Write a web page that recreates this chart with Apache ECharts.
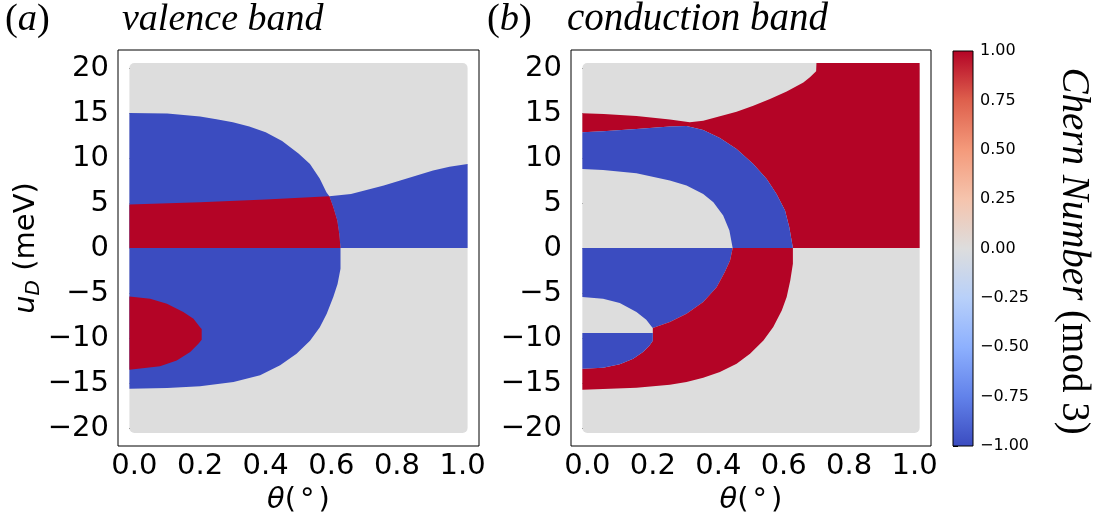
<!DOCTYPE html>
<html><head><meta charset="utf-8">
<script src="https://cdn.jsdelivr.net/npm/echarts@6/dist/echarts.min.js"></script>
<style>html,body{margin:0;padding:0;background:#fff}#c{width:1102px;height:523px}</style>
</head><body><div id="c"></div>
<script>
// ---------- axes / ticks ----------
const thetaTicks = [0, 0.2, 0.4, 0.6, 0.8, 1.0];
const uTicks = [-20, -15, -10, -5, 0, 5, 10, 15, 20];
const cbarTicks = [-1, -0.75, -0.5, -0.25, 0, 0.25, 0.5, 0.75, 1];
const thetaRange = [0, 1];      // θ grid extent (°)
const uRange = [-20, 20];       // u_D grid extent (meV)
const chernRange = [-1, 1];
const coolwarm = ['#3b4cc0','#6282ea','#8db0fe','#b8d0f9','#dddddd','#f5c4ad','#f49a7b','#de604d','#b40426'];

// ---------- (a) valence band : phase boundaries [θ, u_D] ----------
const valOuterTop = [[0,15.0],[0.1,14.95],[0.2,14.6],[0.25,14.3],[0.3,13.96],[0.35,13.5],[0.4,12.85],[0.45,11.9],[0.5,10.5],[0.535,9.34],[0.565,7.7],[0.585,6.2],[0.594,5.75]];
const valBandEdge = [[0.594,5.75],[0.606,4.53],[0.618,3.05],[0.624,1.57],[0.628,0]];
const valOuterBottom = [[0.628,0],[0.628,-2.3],[0.619,-4.0],[0.606,-5.45],[0.586,-7.3],[0.565,-8.8],[0.535,-10.3],[0.494,-11.75],[0.444,-13.04],[0.383,-14.15],[0.302,-14.9],[0.2,-15.37],[0.1,-15.56],[0,-15.63]];
const valTailTop = [[0.594,5.75],[0.66,6.0],[0.71,6.46],[0.76,6.94],[0.81,7.5],[0.86,8.05],[0.91,8.6],[0.96,9.04],[1,9.34]];
const valBandTop = [[0,4.83],[0.2,5.09],[0.4,5.38],[0.594,5.75]];
const valPocket = [[0,-5.38],[0.048,-5.64],[0.099,-6.2],[0.149,-7.12],[0.18,-7.86],[0.2,-8.8],[0.205,-9.0],[0.205,-10.2],[0.195,-10.64],[0.17,-11.56],[0.129,-12.49],[0.078,-13.15],[0,-13.52]];
const valChern = {main: -1, tail: -1, band: 1, pocket: 1, rest: 0};

// ---------- (b) conduction band : phase boundaries [θ, u_D] ----------
const conTopEdge = [[0,14.96],[0.05,14.9],[0.15,14.66],[0.252,14.29],[0.313,13.96],[0.354,14.15],[0.405,14.63],[0.456,15.15],[0.507,15.8],[0.558,16.56],[0.609,17.4],[0.66,18.4],[0.68,18.96],[0.699,19.63],[0.70,20]];
const conArcOuter = [[0,12.86],[0.048,12.97],[0.15,13.23],[0.252,13.49],[0.303,13.56],[0.354,13.1],[0.405,12.23],[0.456,11.0],[0.507,9.34],[0.548,7.68],[0.578,6.0],[0.604,4.16],[0.617,2.3],[0.628,0]];
const conArcInner = [[0,8.79],[0.048,8.68],[0.15,8.3],[0.252,7.5],[0.303,6.94],[0.354,6.0],[0.385,5.09],[0.415,3.6],[0.434,1.94],[0.444,0]];
const conEllipseTop = [[0,-5.45],[0.048,-5.64],[0.099,-6.1],[0.15,-7.12],[0.18,-7.97],[0.196,-8.71],[0.2,-8.9]];
const conLowerEdge = [[0.2,-8.9],[0.252,-8.23],[0.303,-7.3],[0.354,-6.0],[0.395,-4.35],[0.42,-2.68],[0.436,-1.39],[0.444,0]];
const conPocketEdge = [[0.2,-9.45],[0.2,-10.3],[0.19,-10.82],[0.17,-11.56],[0.14,-12.3],[0.099,-12.93],[0.048,-13.3],[0,-13.41]];
const conArcLower = [[0.628,0],[0.628,-1.76],[0.62,-3.6],[0.609,-5.45],[0.594,-6.94],[0.568,-8.79],[0.538,-10.27],[0.497,-11.75],[0.456,-12.86],[0.405,-13.78],[0.354,-14.41],[0.303,-14.89],[0.252,-15.19],[0.15,-15.52],[0.048,-15.67],[0,-15.74]];
const conChern = {redTop: 1, arc: -1, lower: -1, redArc: 1, pocket: -1, rest: 0};

// ---------- build region polygons from the boundaries ----------
const rev = a => a.slice().reverse();
const T1 = thetaRange[1], U1 = uRange[1];
const valRegions = [
  {c: valChern.main,  pts: valOuterTop.concat(valBandEdge.slice(1), valOuterBottom.slice(1))},
  {c: valChern.tail,  pts: valTailTop.concat([[T1,0],[valBandEdge[4][0],0]], rev(valBandEdge).slice(1))},
  {c: valChern.band,  pts: valBandTop.concat(valBandEdge.slice(1), [[0,0]])},
  {c: valChern.pocket, pts: valPocket}
];
const conRegions = [
  {c: conChern.redTop, pts: conTopEdge.concat([[T1,U1],[T1,0]], rev(conArcOuter))},
  {c: conChern.arc,    pts: conArcOuter.concat(rev(conArcInner))},
  {c: conChern.lower,  pts: [[0,0]].concat(rev(conLowerEdge), rev(conEllipseTop).slice(1))},
  {c: conChern.redArc, pts: [[0.444,0]].concat(conArcLower, rev(conPocketEdge), conLowerEdge)},
  {c: conChern.pocket, pts: [[0,-9.45]].concat(conPocketEdge)}
];

// ---------- rendering helpers ----------
const PAD = 5; // marker radius overhang at grid edges (px)
function padPt(px, p) {
  let x = px[0], y = px[1];
  if (p[0] <= thetaRange[0]) x -= PAD;
  if (p[0] >= thetaRange[1]) x += PAD;
  if (p[1] >= uRange[1]) y -= PAD;
  if (p[1] <= uRange[0]) y += PAD;
  return [x, y];
}
function polyRender(pts) {
  return function (params, api) {
    if (params.dataIndex !== 0) return null;
    const color = api.visual('color');
    const points = pts.map(p => padPt(api.coord([p[0], p[1]]), p));
    return {type: 'polygon', shape: {points}, style: {fill: color}};
  };
}
function bgRender(params, api) {
  if (params.dataIndex !== 0) return null;
  const a = api.coord([thetaRange[0], uRange[1]]);
  const b = api.coord([thetaRange[1], uRange[0]]);
  return {type: 'rect', shape: {x: a[0]-PAD, y: a[1]-PAD, width: b[0]-a[0]+2*PAD, height: b[1]-a[1]+2*PAD, r: PAD},
          style: {fill: api.visual('color')}};
}
function cbarRender(params, api) {
  if (params.dataIndex !== 0) return null;
  const a = api.coord([0, chernRange[1]]);
  const b = api.coord([1, chernRange[0]]);
  const stops = coolwarm.slice().reverse().map((c, i, arr) => ({offset: i/(arr.length-1), color: c}));
  return {type: 'rect', shape: {x: a[0], y: a[1], width: b[0]-a[0], height: b[1]-a[1]},
          style: {fill: {type: 'linear', x: 0, y: 0, x2: 0, y2: 1, colorStops: stops}}};
}

const series = [];
const regionSeriesIdx = [];
function addPanel(idx, regions, restC) {
  regionSeriesIdx.push(series.length);
  series.push({type: 'custom', xAxisIndex: idx, yAxisIndex: idx, renderItem: bgRender, silent: true,
    data: [[thetaRange[0], uRange[0], restC], [thetaRange[1], uRange[1], restC]]});
  regions.forEach(r => {
    regionSeriesIdx.push(series.length);
    series.push({type: 'custom', xAxisIndex: idx, yAxisIndex: idx, renderItem: polyRender(r.pts), silent: true,
      data: r.pts.map(p => [p[0], p[1], r.c])});
  });
}
addPanel(0, valRegions, valChern.rest);
addPanel(1, conRegions, conChern.rest);
series.push({type: 'custom', xAxisIndex: 2, yAxisIndex: 2, renderItem: cbarRender, silent: true,
  data: [[0, chernRange[0]], [1, chernRange[1]]]});

const SANS = 'DejaVu Sans', SERIF = '"Liberation Serif"';
const FS = 29;
const minus = s => String(s).replace('-', '\u2212');
function xAx(grid) {
  return {type: 'value', gridIndex: grid, min: -0.05, max: 1.05,
    axisLine: {show: false}, splitLine: {show: false},
    axisTick: {show: true, length: 5, inside: false, customValues: thetaTicks, lineStyle: {color: '#000', width: 1}},
    axisLabel: {customValues: thetaTicks, formatter: v => v.toFixed(1), fontSize: FS, fontFamily: SANS, color: '#000', margin: 6},
    name: '{i|θ}({d|°})', nameLocation: 'middle', nameGap: 38,
    nameTextStyle: {fontSize: FS, fontFamily: SANS, color: '#000', lineHeight: FS,
      rich: {i: {fontStyle: 'italic', fontSize: FS, fontFamily: SANS, color: '#000', lineHeight: FS},
             d: {fontSize: FS, fontFamily: SANS, color: '#000', lineHeight: FS, padding: [0, 4, 0, 4]}}}};
}
function yAx(grid, withName) {
  const ax = {type: 'value', gridIndex: grid, min: -22, max: 22,
    axisLine: {show: false}, splitLine: {show: false},
    axisTick: {show: true, length: 5, inside: false, customValues: uTicks, lineStyle: {color: '#000', width: 1}},
    axisLabel: {customValues: uTicks, formatter: v => minus(v), fontSize: FS, fontFamily: SANS, color: '#000', margin: 9}};
  if (withName) {
    ax.name = '{i|u}{s|D} (meV)';
    ax.nameLocation = 'middle';
    ax.nameGap = 72;
    ax.nameTextStyle = {fontSize: FS, fontFamily: SANS, color: '#000', lineHeight: 34,
      rich: {i: {fontStyle: 'italic', fontSize: FS, fontFamily: SANS, color: '#000', lineHeight: 34},
             s: {fontStyle: 'italic', fontSize: 20, fontFamily: SANS, color: '#000', lineHeight: 20, verticalAlign: 'bottom'}}};
  }
  return ax;
}

const option = {
  animation: false,
  backgroundColor: '#fff',
  grid: [
    {left: 118, top: 50, width: 361, height: 396, show: true, borderColor: '#000', borderWidth: 1, backgroundColor: 'transparent', z: 10},
    {left: 571, top: 50, width: 360, height: 396, show: true, borderColor: '#000', borderWidth: 1, backgroundColor: 'transparent', z: 10},
    {left: 953, top: 51, width: 20, height: 395, show: true, borderColor: '#000', borderWidth: 1, backgroundColor: 'transparent', z: 10}
  ],
  xAxis: [xAx(0), xAx(1), {type: 'value', gridIndex: 2, min: 0, max: 1, show: false}],
  yAxis: [yAx(0, true), yAx(1, false),
    {type: 'value', gridIndex: 2, min: chernRange[0], max: chernRange[1], interval: 0.25, position: 'right',
     axisLine: {show: false}, splitLine: {show: false},
     axisTick: {show: true, length: 5, inside: false, lineStyle: {color: '#000', width: 1}},
     axisLabel: {formatter: v => minus(v.toFixed(2)), fontSize: 16, fontFamily: SANS, color: '#000', margin: 7}}],
  visualMap: {type: 'continuous', show: false, min: chernRange[0], max: chernRange[1], dimension: 2,
    seriesIndex: regionSeriesIdx, inRange: {color: coolwarm}},
  series: series,
  graphic: [
    {type: 'text', x: 5, y: 20, style: {text: '({i|a})', font: '38.5px "Liberation Serif"', fill: '#000', verticalAlign: 'middle',
      rich: {i: {fontStyle: 'italic', fontSize: 38.5, fontFamily: SERIF}}}},
    {type: 'text', x: 122, y: 20, style: {text: 'valence band', font: 'italic 38px "Liberation Serif"', fill: '#000', verticalAlign: 'middle'}},
    {type: 'text', x: 487, y: 20, style: {text: '({i|b})', font: '38.5px "Liberation Serif"', fill: '#000', verticalAlign: 'middle',
      rich: {i: {fontStyle: 'italic', fontSize: 38.5, fontFamily: SERIF}}}},
    {type: 'text', x: 567, y: 20, style: {text: 'conduction band', font: 'italic 39px "Liberation Serif"', fill: '#000', verticalAlign: 'middle'}},
    {type: 'text', x: 1073, y: 251, rotation: -Math.PI/2,
     style: {text: '{i|Chern Number} (mod 3)', font: '39px "Liberation Serif"', fill: '#000', align: 'center', verticalAlign: 'middle',
      rich: {i: {fontStyle: 'italic', fontSize: 39, fontFamily: SERIF}}}}
  ]
};
const chart = echarts.init(document.getElementById('c'), null, {renderer: 'canvas'});
chart.setOption(option);
</script></body></html>
